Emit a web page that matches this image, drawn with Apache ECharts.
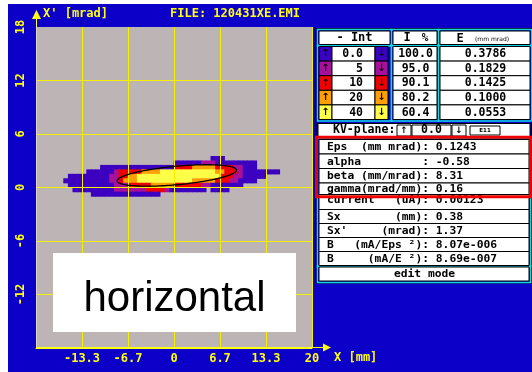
<!DOCTYPE html>
<html>
<head>
<meta charset="utf-8">
<script src="https://cdn.jsdelivr.net/npm/echarts@6/dist/echarts.min.js"></script>
<style>
html,body{margin:0;padding:0;background:#ffffff;}
#c{width:532px;height:372px;}
</style>
</head>
<body>
<div id="c"></div>
<script>
// Phase-space intensity map, one string per row (top row first), 10-cell groups.
// '.' = below threshold, 1..5 = contour band (>0, >5, >10, >20, >40 %)
const beamTopRow = 42;
const beamRows = [
  '.......... .......... .......... ........11 1',
  '.......... .......... .......... 1111112221 11111111',
  '.......... ....111111 1111111111 3333444443 33322111',
  '.......... .111111233 3334444555 5555555554 4333211111 111',
  '.......111 1111112233 4455555555 5555555555 3332211111',
  '......1111 1111112234 4455555555 5555444443 33221111',
  '.......111 1111111222 3333344444 3333332211 11111',
  '........11 1111111222 2222333321 1111111.11 11',
  '.......... ..11111111 1111111'
];
const xBins = 60;   // 2/3 mm per column over -20..20 mm
const yBins = 72;   // 0.5 mrad per row over -18..18 mrad

const xTickLabels = ['', '-13.3', '-6.7', '0', '6.7', '13.3', '20'];
const yTickLabels = ['', '-12', '-6', '0', '6', '12', '18'];

// contour table
const intLevels = ['0.0', '5', '10', '20', '40'];
const intPercent = ['100.0', '95.0', '90.1', '80.2', '60.4'];
const intEmittance = ['0.3786', '0.1829', '0.1425', '0.1000', '0.0553'];
const levelColors = ['#3c00c0', '#a8109c', '#f00000', '#ffa000', '#ffff48'];

// beam parameters
const twissEps = 0.1243;
const twissAlpha = -0.58;
const twissBeta = 8.31;
const twissGamma = 0.16;
const beamCurrent = '0.00123';
const sizeX = '0.38';
const sizeXp = '1.37';
const brightEps = '8.07e-006';
const brightE = '8.69e-007';
const kvPlane = '0.0';
const fileName = '120431XE.EMI';
const planeName = 'horizontal';

// drawn ellipse: centre (mm, mrad) and its emittance in plot units
const ellipseCenter = [0.4, 1.35];
const ellipseEmit = 9.0;

const BLUE = '#0c00c8', YEL = '#ffff10', GRIDC = '#f4f000', PLOT = '#bdb5b5', CYAN = '#10d8e8';
const MONO = '"DejaVu Sans Mono", monospace';

const beamData = [];
beamRows.forEach((row, r) => {
  const cells = row.replace(/ /g, '');
  for (let k = 0; k < cells.length; k++) {
    if (cells[k] !== '.') beamData.push([k, beamTopRow - r, Number(cells[k])]);
  }
});
const xCats = Array.from({length: xBins}, (_, i) => i);
const yCats = Array.from({length: yBins}, (_, i) => i);

function ellipsePoints(api) {
  const pts = [];
  const a = Math.sqrt(ellipseEmit * twissBeta);
  const b = Math.sqrt(ellipseEmit / twissBeta);
  for (let i = 0; i <= 160; i++) {
    const t = i / 160 * 2 * Math.PI;
    const x = ellipseCenter[0] + a * Math.cos(t);
    const xp = ellipseCenter[1] + b * (-twissAlpha * Math.cos(t) - Math.sin(t));
    pts.push(api.coord([x, xp]));
  }
  return pts;
}

// ---- side panel and decorations ----
const g = [];
function rect(x, y, w, h, fill, stroke, lw, z) {
  g.push({type: 'rect', z: z == null ? 10 : z, silent: true,
    shape: {x: x, y: y, width: w, height: h},
    style: {fill: fill || 'none', stroke: stroke || 'none', lineWidth: lw || 0}});
}
function text(x, y, s, size, color, align, family, weight, z) {
  g.push({type: 'text', z: z == null ? 20 : z, silent: true, x: x, y: y,
    style: {text: s, fill: color || '#000',
      font: (weight || 'bold') + ' ' + size + 'px ' + (family || MONO),
      align: align || 'left', verticalAlign: 'middle',
      textAlign: align || 'left', textVerticalAlign: 'middle'}});
}
function poly(points, fill, z) {
  g.push({type: 'polygon', z: z == null ? 20 : z, silent: true,
    shape: {points: points}, style: {fill: fill}});
}
function line(x1, y1, x2, y2, color, lw, z) {
  g.push({type: 'line', z: z == null ? 20 : z, silent: true,
    shape: {x1: x1, y1: y1, x2: x2, y2: y2}, style: {stroke: color, lineWidth: lw}});
}
function framed(x, y, w, h, fill) {
  rect(x - 1.5, y - 1.5, w + 3, h + 3, null, CYAN, 1.5, 11);
  rect(x, y, w, h, fill || '#fff', '#000', 1, 12);
}

// page background
rect(8, 4, 524, 368, BLUE, null, 0, -100);

// axis arrows and titles
line(36.5, 27, 36.5, 17, YEL, 1);
poly([[36.5, 10], [32, 19], [41, 19]], YEL);
line(36, 347.5, 324, 347.5, YEL, 1);
poly([[331, 347.5], [323, 343.5], [323, 351.5]], YEL);
text(43, 14, "X' [mrad]", 12, YEL);
text(170, 14, 'FILE: ' + fileName, 12, YEL);
text(334, 358, 'X [mm]', 12, YEL);

// label box over the plot
rect(53, 253, 243, 79, '#ffffff', null, 0, 100);
text(174.5, 299, planeName, 42, '#000', 'center', '"Liberation Sans", Arial, sans-serif', 'normal', 101);

// panel frame
rect(316, 28.5, 215.5, 254.5, BLUE, '#000', 1, 5);

// table header
framed(319, 31, 71, 13.5);
framed(393, 31, 44, 13.5);
framed(440, 31, 90, 13.5);
text(354.5, 38, '- Int', 12, '#000', 'center');
text(407, 38, 'I', 12, '#000', 'center');
text(425, 38, '%', 11, '#000', 'center');
text(460, 38.5, 'E', 12, '#000', 'center');
text(492, 39, '(mm mrad)', 6, '#000', 'center', '"DejaVu Sans", sans-serif', 'normal');

// table body
const rowH = 14.6, body0 = 46.5;
rect(317.5, body0 - 1.5, 74, rowH * 5 + 3, null, CYAN, 1.5, 11);
rect(391.5, body0 - 1.5, 47, rowH * 5 + 3, null, CYAN, 1.5, 11);
rect(438.5, body0 - 1.5, 93, rowH * 5 + 3, null, CYAN, 1.5, 11);
intLevels.forEach((lv, i) => {
  const y = body0 + i * rowH, cy = y + rowH / 2;
  rect(319, y, 13, rowH, levelColors[i], '#000', 1, 12);
  rect(332, y, 43, rowH, '#fff', '#000', 1, 12);
  rect(375, y, 13, rowH, levelColors[i], '#000', 1, 12);
  rect(393, y, 44, rowH, '#fff', '#000', 1, 12);
  rect(440, y, 90, rowH, '#fff', '#000', 1, 12);
  text(325.5, cy, '\u2191', 10, '#000', 'center', '"DejaVu Sans", sans-serif');
  text(381.5, cy, '\u2193', 10, '#000', 'center', '"DejaVu Sans", sans-serif');
  text(363, cy + 0.5, lv, 11.5, '#000', 'right');
  text(415.5, cy + 0.5, intPercent[i], 11.5, '#000', 'center');
  text(485.5, cy + 0.5, intEmittance[i], 11.5, '#000', 'center');
});

// KV-plane row
rect(318, 123.5, 212, 13.5, '#fff', '#000', 1, 12);
text(333, 130.5, 'KV-plane:', 11.5, '#000');
rect(397, 125, 14, 11, '#fff', '#000', 1, 13);
rect(412, 125, 39, 11, '#fff', '#000', 1, 13);
rect(452, 125, 14, 11, '#fff', '#000', 1, 13);
rect(470, 126, 30, 9, '#fff', '#000', 1, 13);
text(404, 130.5, '\u2191', 9, '#000', 'center', '"DejaVu Sans", sans-serif');
text(431.5, 130.5, kvPlane, 11.5, '#000', 'center');
text(459, 130.5, '\u2193', 9, '#000', 'center', '"DejaVu Sans", sans-serif');
text(485, 130.5, 'E11', 5.5, '#000', 'center', '"DejaVu Sans", sans-serif');

// parameter rows
const infoLines = [
  'Eps  (mm mrad): ' + twissEps.toFixed(4),
  'alpha         : ' + twissAlpha.toFixed(2),
  'beta (mm/mrad): ' + twissBeta.toFixed(2),
  'gamma(mrad/mm): ' + twissGamma.toFixed(2),
  'current   (uA): ' + beamCurrent,
  'Sx        (mm): ' + sizeX,
  "Sx'     (mrad): " + sizeXp,
  'B   (mA/Eps \u00b2): ' + brightEps,
  'B     (mA/E \u00b2): ' + brightE
];
const infoTops = [139.5, 154, 168.5, 183, 194.5, 209.5, 223.5, 237.5, 251.5, 265.5];
rect(317.5, 138, 213, 129, null, CYAN, 1.5, 11);
infoLines.forEach((s, i) => {
  const y = infoTops[i], h = infoTops[i + 1] - y;
  rect(319, y, 210, h, '#fff', '#000', 1, 12);
  const ty = i === 4 ? 200.5 : y + h / 2 + 0.5;
  text(327, ty, s, 11.3, '#000');
});
framed(319, 267, 210, 14);
text(424.5, 274.3, 'edit mode', 11.3, '#000', 'center');

// highlight box around the Twiss parameters
rect(316.5, 137.2, 214, 59.6, null, '#ee0000', 3, 30);

const chart = echarts.init(document.getElementById('c'), null, {renderer: 'canvas'});
chart.setOption({
  animation: false,
  backgroundColor: '#ffffff',
  grid: {left: 36, top: 27, width: 276, height: 321, show: true,
         backgroundColor: PLOT, borderWidth: 0},
  xAxis: [
    {type: 'value', min: -20, max: 20, interval: 20 / 3, z: 5,
     axisLine: {show: true, onZero: false, lineStyle: {color: YEL, width: 1}},
     axisTick: {show: false},
     axisLabel: {color: YEL, fontFamily: MONO, fontWeight: 'bold', fontSize: 12, margin: 5,
                 formatter: v => xTickLabels[Math.round(v / (20 / 3)) + 3] || ''},
     splitLine: {show: true, showMinLine: false, lineStyle: {color: GRIDC, width: 1}}},
    {type: 'category', data: xCats, show: false, boundaryGap: true}
  ],
  yAxis: [
    {type: 'value', min: -18, max: 18, interval: 6, z: 5,
     axisLine: {show: true, onZero: false, lineStyle: {color: '#dcd6c0', width: 1}},
     axisTick: {show: false},
     axisLabel: {rotate: 90, color: YEL, fontFamily: MONO, fontWeight: 'bold', fontSize: 12, margin: 9,
                 formatter: v => yTickLabels[Math.round(v / 6) + 3] || ''},
     splitLine: {show: true, showMinLine: false, showMaxLine: false, lineStyle: {color: GRIDC, width: 1}}},
    {type: 'category', data: yCats, show: false, boundaryGap: true}
  ],
  series: [
    {type: 'custom', xAxisIndex: 1, yAxisIndex: 1, z: 2, silent: true,
     data: beamData,
     renderItem: (params, api) => {
       const c = api.coord([api.value(0), api.value(1)]);
       const s = api.size([1, 1]);
       return {type: 'rect',
         shape: {x: c[0] - s[0] / 2 - 0.3, y: c[1] - s[1] / 2 - 0.3, width: s[0] + 0.6, height: s[1] + 0.6},
         style: {fill: levelColors[api.value(2) - 1]}};
     }},
    {type: 'custom', xAxisIndex: 0, yAxisIndex: 0, z: 8, silent: true,
     data: [ellipseCenter],
     renderItem: (params, api) => ({type: 'polyline', shape: {points: ellipsePoints(api)},
       style: {stroke: '#000', fill: 'none', lineWidth: 1.3}})}
  ],
  graphic: {elements: g}
});
</script>
</body>
</html>
